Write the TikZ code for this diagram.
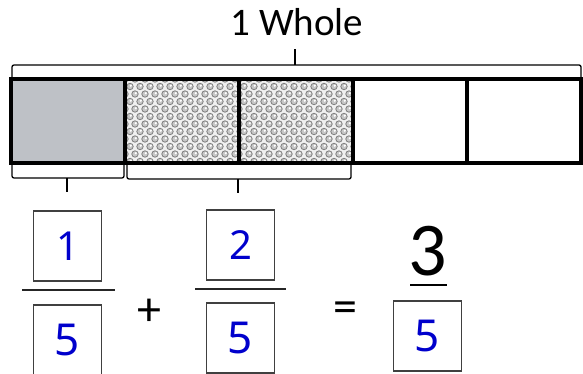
\documentclass[tikz,border=0pt]{standalone}
\usepackage{fontspec}
\usetikzlibrary{calc}
\setmainfont{Carlito}
\newfontfamily\handfont{Noto Sans}
\begin{document}
\begin{tikzpicture}[x=1pt,y=-1pt,
  cell/.style={draw=black,line width=3.4pt,minimum width=114pt,minimum height=84pt,inner sep=0pt,outer sep=0pt},
  ansbox/.style={draw=black!75,line width=1.1pt,minimum width=68pt,minimum height=70pt,inner sep=0pt},
  hand/.style={text=blue!80!black,font=\handfont\fontsize{40}{40}\selectfont},
  brace/.style={line width=1.3pt,rounded corners=2pt},
  fracbar/.style={line width=1.8pt,black!85},
  sym/.style={font=\fontsize{48}{48}\selectfont}]
\useasboundingbox (0,0) rectangle (583,374);
\definecolor{barGrey}{RGB}{190,193,198}
% cells
\node[cell,fill=barGrey] (c1) at (68,121) {};
\node[cell] (c2) at (182,121) {};
\node[cell] (c3) at (296,121) {};
\node[cell] (c4) at (410,121) {};
\node[cell] (c5) at (524,121) {};
% dotted texture
\foreach \c in {c2,c3}{
  \begin{scope}
    \clip (\c.south west) rectangle (\c.north east);
    \fill[black!6] (\c.south west) rectangle (\c.north east);
    \foreach \j in {0,...,12}{
      \foreach \i in {0,...,12}{
        \pgfmathsetmacro{\xo}{mod(\j,2)*5}
        \draw[black!50,fill=black!22,line width=0.8pt] ($(\c.north west)+(\i*10+\xo,\j*7.5)$) circle (3.2pt);
        \fill[white] ($(\c.north west)+(\i*10+\xo+0.8,\j*7.5-0.8)$) circle (1.2pt);
      }
    }
  \end{scope}
  \node[cell] at (\c) {};
}
% title
\node[font=\fontsize{39}{39}\selectfont] (whole) at (297,22) {1 Whole};
% top bracket
\coordinate (tl) at (12,79);
\coordinate (tr) at (581,79);
\draw[brace] (tl) -- (12,65) -- (581,65) -- (tr);
\coordinate (tt) at (295,65);
\coordinate (ttop) at (295,49);
\draw[line width=1.3pt] (tt) -- (ttop);
% bottom brackets
\draw[brace] (12,163) -- (12,178) -- (124,178) -- (124,163);
\draw[line width=1.3pt] (67,178) coordinate (b1) -- (67,192) coordinate (b1e);
\draw[brace] (127,163) -- (127,179) -- (351,179) -- (351,163);
\draw[line width=1.3pt] (238,179) coordinate (b2) -- (238,193) coordinate (b2e);
% fraction 1
\node[ansbox] (n1) at (67.5,246) {};
\node[hand] at (n1) {1};
\draw[fracbar] (22,290) coordinate (f1l) -- (115,290) coordinate (f1r);
\node[ansbox] (d1) at (67.5,340) {};
\node[hand,font=\handfont\fontsize{44}{44}\selectfont] at (d1) {5};
% plus
\node[sym] (plus) at (149,312) {+};
% fraction 2
\node[ansbox] (n2) at (240.5,245) {};
\node[hand] at (n2) {2};
\draw[fracbar] (195,289) coordinate (f2l) -- (286,289) coordinate (f2r);
\node[ansbox] (d2) at (240.5,338) {};
\node[hand,font=\handfont\fontsize{44}{44}\selectfont] at (d2) {5};
% equals
\node[sym] (eq) at (345,312) {=};
% result
\node[font=\fontsize{76}{76}\selectfont] (three) at (428,251) {3};
\draw[line width=2.4pt] (410,285) coordinate (ul) -- (447,285) coordinate (ur);
\node[ansbox] (d3) at (427.5,336) {};
\node[hand,font=\handfont\fontsize{44}{44}\selectfont] at (d3) {5};
\end{tikzpicture}
\end{document}
